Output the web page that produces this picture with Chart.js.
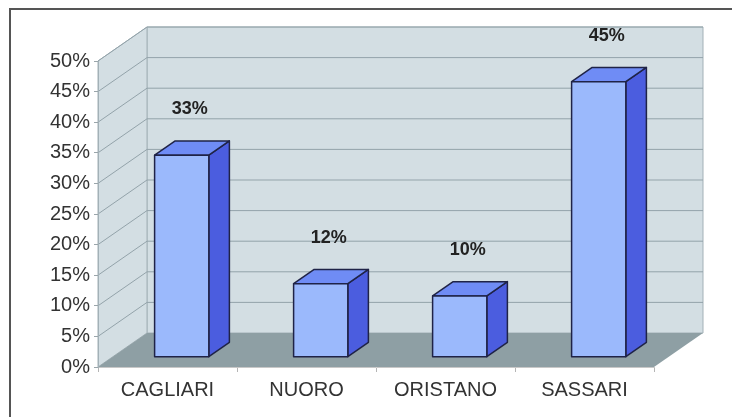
<!DOCTYPE html>
<html>
<head>
<meta charset="utf-8">
<script src="https://cdn.jsdelivr.net/npm/chart.js@4.4.1/dist/chart.umd.min.js"></script>
<style>
  html, body { margin: 0; padding: 0; background: #fff; }
  canvas { display: block; }
</style>
</head>
<body>
<canvas id="chart" width="732" height="417"></canvas>
<script>
// dati
const categories = ['CAGLIARI', 'NUORO', 'ORISTANO', 'SASSARI'];
const shares = [33, 12, 10, 45];
const yMax = 50;
const yStep = 5;

// prospettiva 3D (profondità del box e della colonna)
const DX = 49, DY = -34;
const F0 = 0.29, F1 = 0.71;

function poly(ctx, pts, fill, stroke) {
    ctx.beginPath();
    ctx.moveTo(pts[0][0], pts[0][1]);
    for (let i = 1; i < pts.length; i++) ctx.lineTo(pts[i][0], pts[i][1]);
    ctx.closePath();
    if (fill) { ctx.fillStyle = fill; ctx.fill(); }
    if (stroke) { ctx.strokeStyle = stroke; ctx.stroke(); }
}

function seg(ctx, x1, y1, x2, y2, color) {
    ctx.beginPath();
    ctx.moveTo(x1, y1);
    ctx.lineTo(x2, y2);
    ctx.strokeStyle = color;
    ctx.stroke();
}

const box3d = {
    id: 'box3d',
    beforeDraw(chart) {
        const { ctx, chartArea: a, scales: { y } } = chart;
        ctx.save();
        // cornice esterna
        ctx.lineWidth = 2;
        ctx.strokeStyle = '#555';
        ctx.strokeRect(10, 9, 780, 460);

        ctx.lineWidth = 1;
        // parete di fondo
        poly(ctx, [[a.left + DX, a.top + DY], [a.right + DX, a.top + DY], [a.right + DX, a.bottom + DY], [a.left + DX, a.bottom + DY]], '#d3dee3', '#a3b1b7');
        // parete laterale
        poly(ctx, [[a.left, a.top], [a.left + DX, a.top + DY], [a.left + DX, a.bottom + DY], [a.left, a.bottom]], '#d3dee3', '#a3b1b7');
        // pavimento
        poly(ctx, [[a.left, a.bottom], [a.left + DX, a.bottom + DY], [a.right + DX, a.bottom + DY], [a.right, a.bottom]], '#8e9fa4', null);

        // griglia
        y.ticks.forEach(t => {
            if (t.value === 0) return;
            const py = y.getPixelForValue(t.value);
            seg(ctx, a.left, py, a.left + DX, py + DY, '#93a3aa');
            seg(ctx, a.left + DX, py + DY, a.right + DX, py + DY, '#93a3aa');
        });
        ctx.restore();
    },
    afterDatasetsDraw(chart) {
        const { ctx } = chart;
        const meta = chart.getDatasetMeta(0);
        const ddx = (F1 - F0) * DX, ddy = (F1 - F0) * DY;
        ctx.save();
        ctx.lineWidth = 1.5;
        ctx.lineJoin = 'round';
        meta.data.forEach((bar, i) => {
            const w = bar.width;
            const x0 = bar.x - w / 2 + F0 * DX, x1 = x0 + w;
            const yt = bar.y + F0 * DY, yb = bar.base + F0 * DY;
            const edge = '#1f2347';
            // lato
            poly(ctx, [[x1, yt], [x1 + ddx, yt + ddy], [x1 + ddx, yb + ddy], [x1, yb]], '#4b5ddf', edge);
            // sopra
            poly(ctx, [[x0, yt], [x0 + ddx, yt + ddy], [x1 + ddx, yt + ddy], [x1, yt]], '#6f8cf5', edge);
            // fronte
            poly(ctx, [[x0, yt], [x1, yt], [x1, yb], [x0, yb]], '#9bb9fc', edge);

            // etichetta valore
            ctx.font = 'bold 18px "Liberation Sans", Arial, sans-serif';
            ctx.fillStyle = '#222';
            ctx.textAlign = 'center';
            ctx.textBaseline = 'middle';
            ctx.fillText(shares[i] + '%', (x0 + x1) / 2 + 8, yt - 46);
        });
        ctx.restore();
    }
};

const tickFont = { family: '"Liberation Sans", Arial, sans-serif', size: 20 };

new Chart(document.getElementById('chart'), {
    type: 'bar',
    data: {
        labels: categories,
        datasets: [{
            data: shares,
            backgroundColor: 'rgba(0,0,0,0)',
            borderWidth: 0,
            barPercentage: 0.39,
            categoryPercentage: 1
        }]
    },
    options: {
        responsive: false,
        animation: false,
        events: [],
        layout: { padding: { top: 61, right: 78, left: 0, bottom: 0 } },
        plugins: { legend: { display: false }, tooltip: { enabled: false } },
        scales: {
            x: {
                afterFit: (s) => { s.height = 50; },
                grid: { drawOnChartArea: false, drawTicks: true, tickLength: 5, color: '#b5b5b5', offset: true },
                border: { display: true, color: '#c8c8c8' },
                ticks: { font: tickFont, color: '#333', padding: 6, maxRotation: 0 }
            },
            y: {
                min: 0,
                max: yMax,
                afterFit: (s) => { s.width = 98; },
                grid: { drawOnChartArea: false, drawTicks: true, tickLength: 4, color: '#9aa5aa' },
                border: { display: true, color: '#a3b1b7' },
                ticks: { stepSize: yStep, font: tickFont, color: '#333', padding: 4, callback: (v) => v + '%' }
            }
        }
    },
    plugins: [box3d]
});
</script>
</body>
</html>
